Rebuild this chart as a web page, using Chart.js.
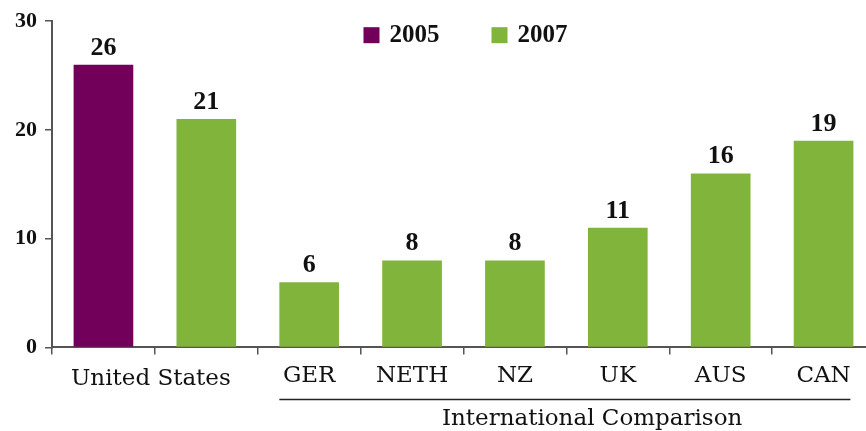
<!DOCTYPE html>
<html>
<head>
<meta charset="utf-8">
<script src="https://cdn.jsdelivr.net/npm/chart.js@4.4.0/dist/chart.umd.min.js"></script>
<style>
  html, body { margin: 0; padding: 0; background: #fff; overflow: hidden; }
</style>
</head>
<body>
<canvas id="chart1" width="880" height="431"></canvas>
<script>
// data
const countries = ["", "", "GER", "NETH", "NZ", "UK", "AUS", "CAN"];
const values2005 = [26, null, null, null, null, null, null, null];
const values2007 = [null, 21, 6, 8, 8, 11, 16, 19];
const seriesNames = ["2005", "2007"];
const usLabel = "United States";
const intlLabel = "International Comparison";

const purple = "#72005a";
const green = "#80b43a";
const axisColor = "#555555";
const textColor = "#111111";
const labelFont = "'DejaVu Serif'";
const numberFont = "'Liberation Serif'";

// value labels, group labels and the legend
const extras = {
  id: 'extras',
  afterDraw(chart) {
    const ctx = chart.ctx;
    const xs = chart.scales.x;
    const area = chart.chartArea;
    ctx.save();

    // numbers on top of bars
    ctx.font = "bold 26px " + numberFont;
    ctx.fillStyle = textColor;
    ctx.textAlign = 'center';
    ctx.textBaseline = 'alphabetic';
    chart.data.datasets.forEach((ds, di) => {
      const meta = chart.getDatasetMeta(di);
      meta.data.forEach((bar, i) => {
        if (ds.data[i] == null) return;
        ctx.fillText(ds.data[i], bar.x, bar.y - 10);
      });
    });

    // United States under first two bars
    ctx.font = "23px " + labelFont;
    ctx.textBaseline = 'alphabetic';
    ctx.fillText(usLabel, xs.getPixelForValue(0.5) - 4, xs.top + 38);

    // line + International Comparison
    const meta = chart.getDatasetMeta(1);
    const first = meta.data[2], last = meta.data[7];
    const x0 = first.x - first.width / 2, x1 = last.x + last.width / 2 - 3;
    ctx.strokeStyle = '#222';
    ctx.lineWidth = 1.5;
    ctx.beginPath();
    ctx.moveTo(x0, xs.top + 52);
    ctx.lineTo(x1, xs.top + 52);
    ctx.stroke();
    ctx.fillText(intlLabel, xs.getPixelForValue(4.75), xs.top + 78);

    // legend
    ctx.font = "bold 25px " + numberFont;
    ctx.textAlign = 'left';
    ctx.textBaseline = 'middle';
    const colors = [purple, green];
    let lx = (area.left + area.right) / 2 - 100;
    const ly = area.top + 6;
    seriesNames.forEach((name, i) => {
      ctx.fillStyle = colors[i];
      ctx.fillRect(lx, ly, 16, 16);
      ctx.fillStyle = textColor;
      ctx.fillText(name, lx + 26, ly + 8);
      lx += 26 + ctx.measureText(name).width + 52;
    });
    ctx.restore();
  }
};

new Chart(document.getElementById('chart1'), {
  type: 'bar',
  data: {
    labels: countries,
    datasets: [
      { label: seriesNames[0], data: values2005, backgroundColor: purple },
      { label: seriesNames[1], data: values2007, backgroundColor: green }
    ]
  },
  options: {
    responsive: false,
    animation: false,
    grouped: false,
    barPercentage: 0.58,
    categoryPercentage: 1,
    layout: { padding: { top: 21, left: 7, right: 5, bottom: 33 } },
    plugins: {
      legend: { display: false },
      tooltip: { enabled: false }
    },
    scales: {
      x: {
        grid: { drawOnChartArea: false, tickLength: 7, color: axisColor, lineWidth: 1.5, offset: true },
        border: { color: axisColor, width: 2 },
        ticks: { color: textColor, padding: 8, font: { family: "DejaVu Serif", size: 23 } }
      },
      y: {
        min: 0,
        max: 30,
        grid: { drawOnChartArea: false, tickLength: 7, color: axisColor, lineWidth: 1.5 },
        border: { color: axisColor, width: 2 },
        ticks: { stepSize: 10, color: textColor, padding: 8, font: { family: "Liberation Serif", size: 22, weight: 'bold' } }
      }
    }
  },
  plugins: [extras]
});
</script>
</body>
</html>
